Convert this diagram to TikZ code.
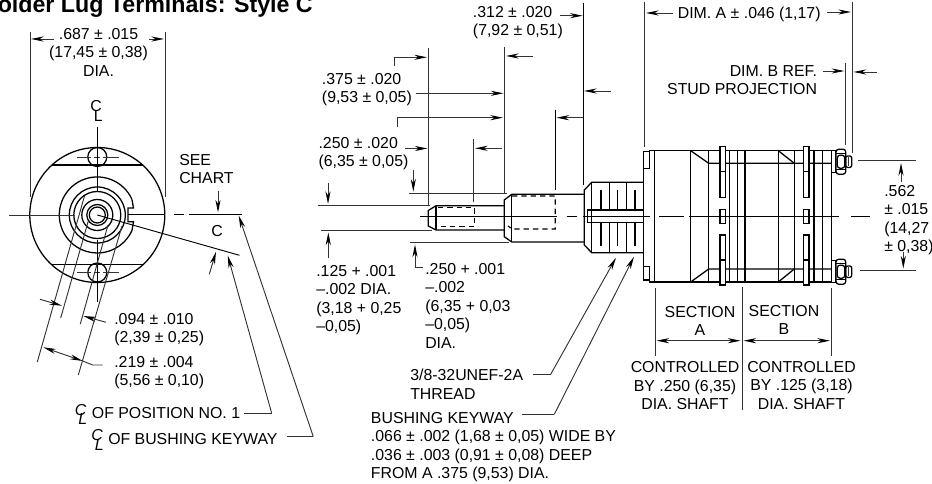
\documentclass[tikz,border=0pt]{standalone}
\usepackage{fontspec}
\setmainfont{Liberation Sans}
\usetikzlibrary{arrows.meta}
\def\clmark{\rlap{\raisebox{0.32em}{C}}\hspace{0.22em}\raisebox{-0.28em}{L}}
\def\sectionstrip(#1){
	\draw[part, fill=white] (#1, 146.7) rectangle ++(5.5, 25);
	\draw[part, fill=white] (#1, 171.7) rectangle ++(5.5, 25.6);
	\draw[part, fill=white] (#1, 209.3) rectangle ++(5.5, 14);
	\draw[part, fill=white] (#1, 235) rectangle ++(5.5, 25);
	\draw[part, fill=white] (#1, 260) rectangle ++(5.5, 25);
}
\def\studnut(#1,#2){
	\begin{scope}[shift={(#1, #2)}]
		\draw[part] (0, -11) rectangle (4.4, 11);
		\draw[part, rounded corners=2pt, fill=white] (4.4, -12.5) rectangle (14, 12.5);
		\draw[part, rounded corners=2pt] (5.6, -6.5) rectangle (13, 6.5);
		\draw[part] (4.4, -8) -- (14, -8);
		\draw[part] (4.4, 8) -- (14, 8);
		\draw[part, rounded corners=1.5pt] (14, -5.7) rectangle (20, 5.7);
		\draw[thinline] (16.8, -4.5) -- (16.8, 4.5);
	\end{scope}
}
\tikzset{
	part/.style={line width=0.95pt},
	hidden/.style={line width=0.95pt, dash pattern=on 4pt off 3pt},
	cline/.style={line width=0.7pt},
	thinline/.style={line width=0.7pt, color=black!80},
	dimline/.style={thinline, -{Stealth[length=9.5pt, width=3.8pt, inset=3pt, color=black]}},
	dimboth/.style={thinline, {Stealth[length=9.5pt, width=3.8pt, inset=3pt, color=black]}-{Stealth[length=9.5pt, width=3.8pt, inset=3pt, color=black]}},
	label/.style={inner sep=0pt, align=left, font=\fontsize{11.9}{13.9}\selectfont},
	labelc/.style={label, align=center}
}

\begin{document}
\begin{tikzpicture}[x=0.75pt, y=-0.75pt]
	\useasboundingbox (0, 0) rectangle (932, 484);
	%%%%% TITLE %%%%%
	\node[inner sep=0pt, anchor=base east, font=\bfseries\fontsize{17.4}{20}\selectfont] (title) at (313, 13) {Solder Lug Terminals: Style C};

	%%%%% END VIEW %%%%%
	\draw[part] (97.3, 215) circle (67.5);
	\draw[part] (52, 165) -- (143, 165);
	\draw[part] (52, 264.3) -- (142.5, 264.3);
	\draw[part] (97.3, 157) circle (9.5);
	\draw[part] (97.3, 272.5) circle (9.5);
	\draw[thinline] (77, 157.5) -- (91, 157.5) (94, 157.5) -- (100, 157.5) (103, 157.5) -- (119, 157.5);
	\draw[thinline] (77, 272.5) -- (91, 272.5) (94, 272.5) -- (100, 272.5) (103, 272.5) -- (118.7, 272.5);

	\draw[part] (132, 199.5) arc (-24:-336:38);
	\draw[part] (132, 199.5) -- (133.5, 208) -- (128, 208) -- (128, 221.7) -- (133.5, 221.7) -- (132, 230.5);
	\draw[part] (97.3, 215) circle (28);
	\draw[part] (97.3, 215) circle (23.5);
	\draw[part] (97.3, 215) circle (15.5);
	\draw[part] (97.3, 215) circle (10.5);
	\draw[part] (97.3, 215) circle (8);

	\draw[cline] (97.3, 127) -- (97.3, 192);
	\draw[cline] (97.3, 240) -- (97.3, 301.7);
	\draw[thinline] (9, 215) -- (75, 215);
	\draw[part] (128, 214.5) -- (165, 214.5);
	\draw[part] (174, 214.5) -- (184, 214.5);
	\draw[part] (189, 214.5) -- (241.7, 214.5);
	\draw[cline] (97.3, 215) -- (239.5, 255.3);

	\draw[thinline] (84.5, 196) -- (37.3, 362);
	\draw[thinline] (88.3, 221) -- (60.7, 318);
	\draw[thinline] (108, 225) -- (80.3, 324);
	\draw[thinline] (122, 226) -- (78.3, 375);

	%%%%% END VIEW DIMENSIONS %%%%%
	\draw[thinline] (30, 32) -- (30, 197);
	\draw[thinline] (165, 32) -- (165, 197);
	\draw[dimline] (54, 39) -- (31, 39);
	\draw[dimline] (149, 39) -- (164, 39);
	\node[labelc, anchor=north] (dia) at (98.5, 28) {.687 ± .015\\(17,45 ± 0,38)\\DIA.};
	\node[inner sep=0pt, font=\fontsize{11.9}{13.9}\selectfont] (clTop) at (96.5, 111) {\clmark};

	\node[label, anchor=north west] (chart) at (179, 154) {SEE\\CHART};
	\draw[dimline] (218, 191) -- (218, 212.5);
	\node[labelc] (charC) at (217, 231) {C};
	\draw[dimline] (209.3, 274.3) -- (216, 251.7);

	\draw[dimline] (40, 299.3) -- (62, 305.7);
	\draw[dimline] (106, 322.3) -- (83.3, 316);
	\draw[dimboth] (43.3, 347.3) -- (82.7, 361);
	\draw[thinline] (82.7, 361) -- (92.7, 365) -- (102.7, 365);
	\node[label, anchor=north west] (tol1) at (114, 313) {.094 ± .010\\(2,39 ± 0,25)};
	\node[label, anchor=north west] (tol2) at (114, 356) {.219 ± .004\\(5,56 ± 0,10)};

	\node[label, anchor=base west] (posOne) at (91.7, 418.5) {OF POSITION NO. 1};
	\node[inner sep=0pt, font=\itshape\fontsize{11.9}{13.9}\selectfont] (clPos) at (81, 414.5) {\clmark};
	\draw[thinline] (244.3, 413.3) -- (271.7, 413.3);
	\draw[dimline] (271.7, 413.3) -- (227.7, 255.5);
	\node[label, anchor=base west] (keyOne) at (108, 445) {OF BUSHING KEYWAY};
	\node[inner sep=0pt, font=\itshape\fontsize{11.9}{13.9}\selectfont] (clKey) at (97.5, 440) {\clmark};
	\draw[thinline] (286.7, 436.7) -- (313.3, 436.7);
	\draw[dimline] (313.3, 436.7) -- (238.7, 215.5);

	%%%%% SHAFT %%%%%
	\draw[part] (504.3, 205.7) -- (436, 205.7) -- (428.3, 210.5) -- (428.3, 226) -- (436, 230) -- (504.3, 230);
	\draw[part] (436, 205.7) -- (436, 230);
	\draw[hidden] (438, 207.5) -- (474.5, 207.5) -- (474.5, 226.5) -- (438, 226.5);

	\draw[part] (584.3, 194.3) -- (511.7, 194.3) -- (504.3, 200) -- (504.3, 236.7) -- (511.7, 242) -- (584.3, 242);
	\draw[part] (511.7, 194.3) -- (511.7, 242);
	\draw[hidden] (512, 196) -- (555.3, 196) -- (555.3, 229) -- (512, 229) -- (508, 226);

	%%%%% BUSHING %%%%%
	\draw[part] (643.3, 182.3) -- (591.7, 182.3) -- (584.3, 190) -- (584.3, 245) -- (591.7, 252.7) -- (643.3, 252.7);
	\draw[part] (591.7, 182.3) -- (591.7, 252.7);
	\draw[part] (609.3, 182.3) -- (609.3, 210);
	\draw[part] (609.3, 222.3) -- (609.3, 252.7);
	\draw[part] (626.7, 182.3) -- (626.7, 210);
	\draw[part] (626.7, 222.3) -- (626.7, 252.7);
	\draw[part] (601, 190) -- (601, 210);
	\draw[part] (617.7, 190) -- (617.7, 210);
	\draw[part] (635, 190) -- (635, 210);
	\draw[part] (601, 222.7) -- (601, 246);
	\draw[part] (617.7, 222.7) -- (617.7, 246);
	\draw[part] (635, 222.7) -- (635, 246);
	\draw[part] (587.7, 210) rectangle (643.3, 222.3);

	%%%%% BODY %%%%%
	\draw[part] (643.3, 151.7) -- (643.3, 280);
	\draw[part] (643.3, 151.7) rectangle (649.3, 168.3);
	\draw[part] (643.3, 266.7) rectangle (649.3, 280);
	\draw[part] (649.3, 150.7) -- (831.7, 150.7) -- (831.7, 282) -- (649.3, 282);
	\draw[part] (654.3, 150.7) -- (654.3, 282);
	\draw[part] (690.7, 150.7) -- (690.7, 282);
	\draw[part] (708.7, 150.7) -- (708.7, 282);
	\draw[part] (729.3, 150.7) -- (729.3, 282);
	\draw[part] (737.7, 150.7) -- (737.7, 282);
	\draw[part] (745, 150.7) -- (745, 282);
	\draw[part] (778.3, 150.7) -- (778.3, 282);
	\draw[part] (794.3, 150.7) -- (794.3, 282);
	\draw[part] (814, 150.7) -- (814, 282);
	\draw[part] (822.3, 150.7) -- (822.3, 282);
	\draw[part] (690.7, 150.7) -- (708.7, 163.3) -- (831.7, 163.3);
	\draw[part] (690.7, 282) -- (708.7, 269) -- (831.7, 269);
	\draw[part] (778.3, 150.7) -- (794.3, 163.3);
	\draw[part] (778.3, 282) -- (794.3, 269);
	\sectionstrip(720)
	\sectionstrip(803.4)
	\studnut(831.7, 161.7)
	\studnut(831.7, 271.7)

	%%%%% CENTER LINE %%%%%
	\draw[cline] (420, 216) -- (556.7, 216);
	\draw[cline] (566.7, 216) -- (576.7, 216);
	\draw[cline] (583, 216) -- (650, 216);
	\draw[cline] (659, 216) -- (684, 216);
	\draw[cline] (688.7, 216) -- (839.3, 216);
	\draw[cline] (850.7, 216) -- (870, 216);

	%%%%% SHAFT DIMENSIONS %%%%%
	\draw[thinline] (428.7, 48) -- (428.7, 205);
	\draw[thinline] (504.7, 47) -- (504.7, 194);
	\draw[cline] (583.3, 3) -- (583.3, 185);
	\draw[cline] (555.3, 110) -- (555.3, 190);
	\draw[thinline] (473.7, 139) -- (473.7, 202);

	\node[label, anchor=north west] (lenA) at (472.7, 6) {.312 ± .020\\(7,92 ± 0,51)};
	\draw[dimline] (560, 15.7) -- (582.7, 15.7);
	\draw[dimline] (533.3, 56) -- (506, 56);
	\draw[dimline] (610.7, 91) -- (584, 91);
	\draw[dimline] (583.3, 117.7) -- (556.5, 117.7);

	\node[label, anchor=north west] (lenB) at (321.7, 73) {.375 ± .020\\(9,53 ± 0,05)};
	\draw[dimline] (394.3, 66) -- (394.3, 57.3) -- (427, 57.3);
	\draw[dimline] (415.7, 93.3) -- (503.5, 93.3);
	\draw[dimline] (397.3, 127.3) -- (397.3, 117.7) -- (503, 117.7);

	\node[label, anchor=north west] (lenC) at (318.3, 137) {.250 ± .020\\(6,35 ± 0,05)};
	\draw[dimline] (405, 148.5) -- (427.5, 148.5);
	\draw[dimline] (501.7, 148.3) -- (475, 148.3);

	\draw[thinline] (409, 193.3) -- (506.7, 193.3);
	\draw[thinline] (318.3, 205.7) -- (430, 205.7);
	\draw[thinline] (320.7, 230.7) -- (431.7, 230.7);
	\draw[thinline] (410, 242.7) -- (509.3, 242.7);
	\draw[dimline] (413.3, 170) -- (413.3, 191.7);
	\draw[dimline] (328, 182.7) -- (328, 204);
	\draw[dimline] (328.3, 258.3) -- (328.3, 232.5);
	\draw[dimline] (423.3, 267.7) -- (415, 267.7) -- (415, 244.5);

	\node[label, anchor=north west] (diaA) at (316, 265) {.125 + .001\\–.002 DIA.\\(3,18 + 0,25\\–0,05)};
	\node[label, anchor=north west] (diaB) at (425, 263) {.250 + .001\\–.002\\(6,35 + 0,03\\–0,05)\\DIA.};

	\node[label, anchor=north west] (thread) at (410, 369) {3/8-32UNEF-2A\\THREAD};
	\draw[thinline] (533.3, 374.3) -- (550.7, 374.3);
	\draw[dimline] (550.7, 374.3) -- (616, 257.7);

	\node[label, anchor=north west] (keyway) at (370.7, 412) {BUSHING KEYWAY\\.066 ± .002 (1,68 ± 0,05) WIDE BY\\.036 ± .003 (0,91 ± 0,08) DEEP\\FROM A .375 (9,53) DIA.};
	\draw[thinline] (522.3, 414.3) -- (554.3, 414.3);
	\draw[dimline] (554.3, 414.3) -- (634, 256.7);

	%%%%% BODY DIMENSIONS %%%%%
	\draw[thinline] (644.8, 2) -- (644.8, 147);
	\draw[thinline] (852.3, 2) -- (852.3, 153);
	\draw[thinline] (845, 63) -- (845, 145);
	\node[label, anchor=base] (dimA) at (749.2, 18.5) {DIM. A ± .046 (1,17)};
	\draw[dimline] (672.7, 13) -- (646, 13);
	\draw[dimline] (827.3, 12) -- (851, 12);
	\node[label, align=right, anchor=north east] (dimB) at (817.3, 65) {DIM. B REF.\\STUD PROJECTION};
	\draw[dimline] (823.3, 71) -- (844.3, 71);
	\draw[dimline] (876.7, 72) -- (853.5, 72);

	\node[label, anchor=north west] (span) at (884, 185) {.562\\± .015\\(14,27\\± 0,38)};
	\draw[thinline] (858.3, 160.7) -- (915.7, 160.7);
	\draw[thinline] (860, 270.3) -- (915.7, 270.3);
	\draw[dimline] (901, 181.7) -- (901, 163);
	\draw[dimline] (903.3, 251.7) -- (903.3, 268.5);

	%%%%% SECTIONS %%%%%
	\draw[thinline] (655.3, 288) -- (655.3, 356);
	\draw[thinline] (742, 287) -- (742, 410);
	\draw[thinline] (831, 288) -- (831, 356);
	\draw[dimboth] (656.5, 340.7) -- (740.5, 340.7);
	\draw[dimboth] (743.5, 340.7) -- (830, 340.7);
	\node[labelc, anchor=north] (secA) at (700, 306) {SECTION\\A};
	\node[labelc, anchor=north] (secB) at (784, 305) {SECTION\\B};
	\node[labelc, anchor=north] (ctlA) at (685, 361.5) {CONTROLLED\\BY .250 (6,35)\\DIA. SHAFT};
	\node[labelc, anchor=north] (ctlB) at (801.5, 361) {CONTROLLED\\BY .125 (3,18)\\DIA. SHAFT};
\end{tikzpicture}
\end{document}
